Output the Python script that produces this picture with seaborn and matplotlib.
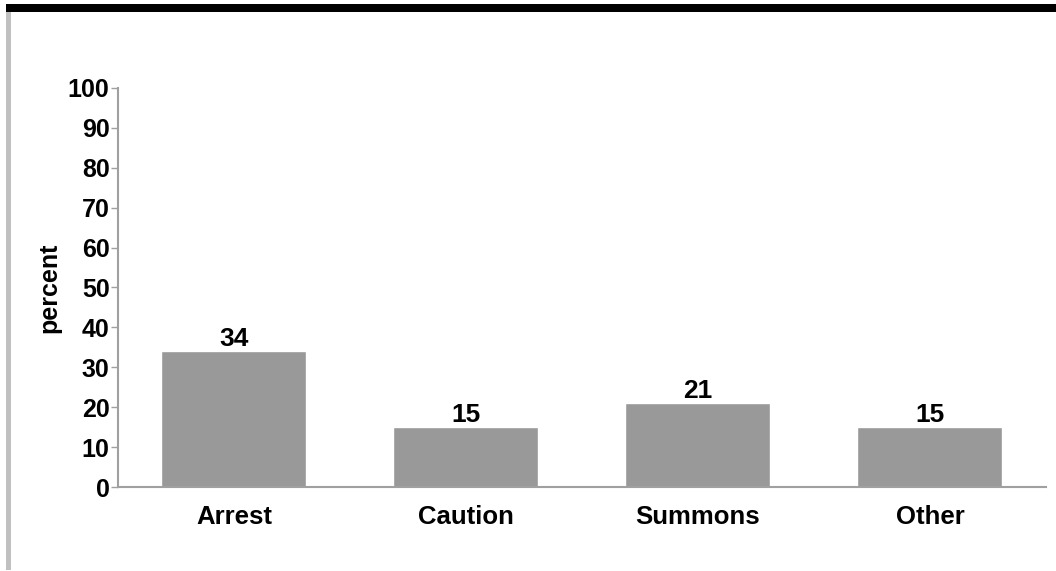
import matplotlib
matplotlib.use("Agg")
import matplotlib.pyplot as plt
import seaborn as sns
import pandas as pd
from matplotlib.patches import Rectangle


# Data
categories = ["Arrest", "Caution", "Summons", "Other"]
percent = [34, 15, 21, 15]
y_ticks = [0, 10, 20, 30, 40, 50, 60, 70, 80, 90, 100]

df = pd.DataFrame({"category": categories, "percent": percent})


# Style
sns.set_style("white")
plt.rcParams["font.family"] = ["Liberation Sans", "DejaVu Sans"]
plt.rcParams["font.weight"] = "bold"
plt.rcParams["text.color"] = "black"
plt.rcParams["xtick.color"] = "black"
plt.rcParams["ytick.color"] = "black"

fig = plt.figure(figsize=(10.56, 5.71), dpi=100)
ax = fig.add_axes([0.1117, 0.1471, 0.8788, 0.6988])

sns.barplot(
    data=df,
    x="category",
    y="percent",
    color="#999999",
    saturation=1,
    width=0.625,
    ax=ax
)

# Value labels
for container in ax.containers:
    ax.bar_label(container, fmt="%d", fontsize=19, fontweight="bold",
                 color="black", padding=0)

ax.set_ylim(0, 100)
ax.set_xlim(-0.5, 3.5)
ax.set_yticks(y_ticks)
ax.set_yticklabels([str(t) for t in y_ticks], fontsize=18, fontweight="bold")
ax.set_xticklabels(categories, fontsize=18.5, fontweight="bold")

ax.set_xlabel("")
ax.set_ylabel("percent", fontsize=18, fontweight="bold", color="black", labelpad=5)

# Axis look
for side in ["top", "right"]:
    ax.spines[side].set_visible(False)
for side in ["left", "bottom"]:
    ax.spines[side].set_color("#a0a0a0")
    ax.spines[side].set_linewidth(1.5)

ax.tick_params(axis="y", length=5, width=1, color="#a0a0a0", labelcolor="black",
               pad=1, left=True)
ax.tick_params(axis="x", length=0, pad=13, labelcolor="black")

# Frame decorations
fig.add_artist(Rectangle((6 / 1056, 1 - 12 / 571), 1 - 6 / 1056, 8.5 / 571,
                         transform=fig.transFigure, color="black", lw=0))
fig.add_artist(Rectangle((6 / 1056, 1 / 571), 5 / 1056, 1 - 13 / 571,
                         transform=fig.transFigure, color="#c0c0c0", lw=0))

fig.savefig("out.png", dpi=100)
